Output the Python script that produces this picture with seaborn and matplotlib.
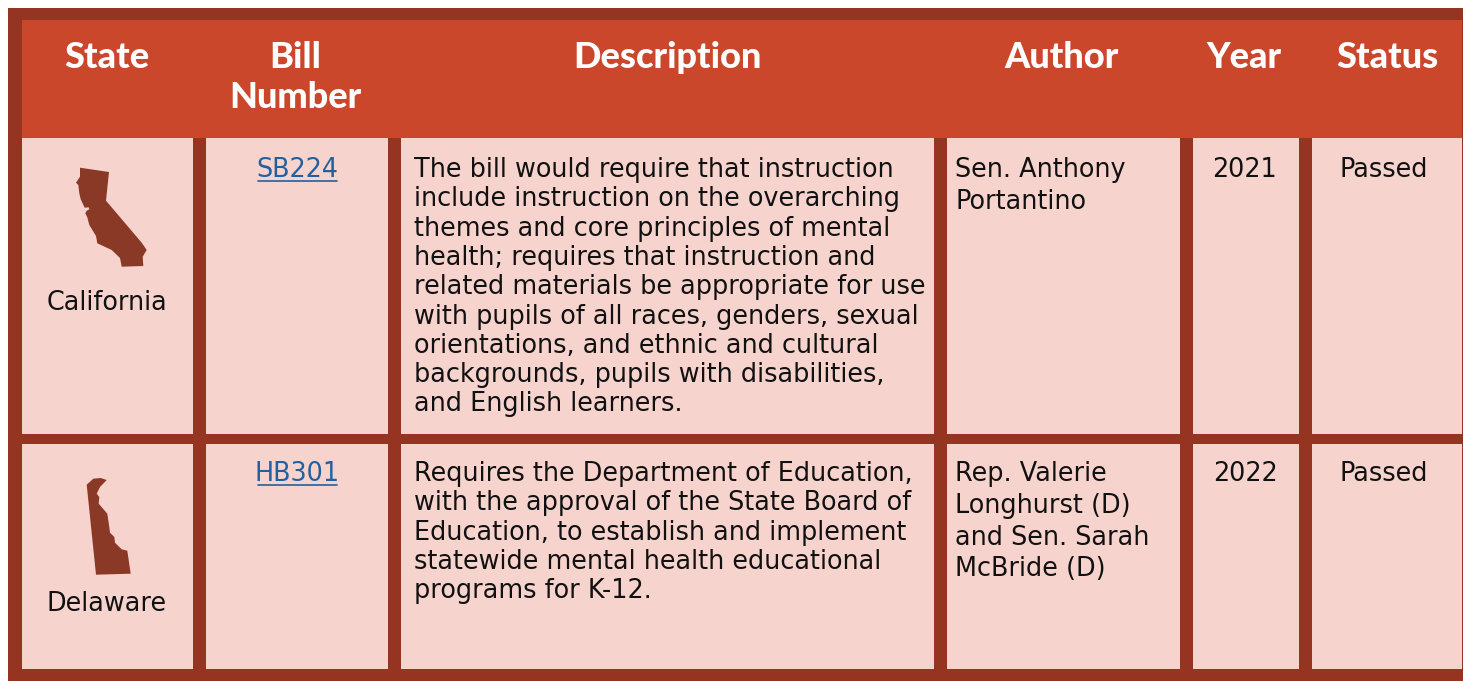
import matplotlib
matplotlib.use("Agg")
import matplotlib.pyplot as plt
import seaborn as sns

W, H = 1463, 681

headers = [["State"], ["Bill", "Number"], ["Description"], ["Author"], ["Year"], ["Status"]]
states = ["California", "Delaware"]
bills = ["SB224", "HB301"]
descriptions = [
    ["The bill would require that instruction",
     "include instruction on the overarching",
     "themes and core principles of mental",
     "health; requires that instruction and",
     "related materials be appropriate for use",
     "with pupils of all races, genders, sexual",
     "orientations, and ethnic and cultural",
     "backgrounds, pupils with disabilities,",
     "and English learners."],
    ["Requires the Department of Education,",
     "with the approval of the State Board of",
     "Education, to establish and implement",
     "statewide mental health educational",
     "programs for K-12."],
]
authors = [
    ["Sen. Anthony", "Portantino"],
    ["Rep. Valerie", "Longhurst (D)", "and Sen. Sarah", "McBride (D)"],
]
years = ["2021", "2022"]
statuses = ["Passed", "Passed"]

# state outlines, pixels
california = [(80, 167.7), (109, 172), (106, 200.7), (141.7, 242.7), (146.7, 250),
              (142.7, 256.7), (143.3, 266), (121.7, 266.7), (120, 258), (111.7, 250),
              (97.3, 243.3), (96, 236), (89.3, 225), (87.3, 217.3), (85.3, 213.3),
              (86.7, 210.7), (89.3, 209.3), (88.7, 207.3), (84.7, 207.7), (80.7, 199.3),
              (79.3, 193.3), (78.3, 185), (76, 182.7), (80, 176.7)]
delaware = [(86.7, 484.7), (93.3, 478.7), (100.7, 478), (106.7, 480), (100, 487),
            (96.7, 493.7), (99.3, 497), (98.7, 503.7), (107.3, 513.7), (109.3, 527),
            (110, 532.7), (114.3, 537), (115, 542.7), (121.7, 549.3), (127.3, 550.7),
            (130.7, 573.7), (96, 574.7)]

# layout, pixels
col_edges = [(22, 193), (206, 388), (401, 934), (947, 1180), (1193, 1299), (1312, 1462)]
row_edges = [(138, 434), (444, 669)]
row_base = [177, 481]
state_base = [310, 611]

FRAME = "#943421"
HEAD = "#cb472b"
CELL = "#f6d3cd"
SHAPE = "#8a3926"
LINK = "#22609f"
INK = "#111111"
BODY = 18.4


def rect(ax, x0, y0, x1, y1, color):
    ax.fill([x0, x1, x1, x0], [y0, y0, y1, y1], color=color, lw=0)


def put(ax, x, y, s, ha="center", **kw):
    kw.setdefault("fontsize", BODY)
    kw.setdefault("color", INK)
    return ax.text(x, y, s, ha=ha, va="baseline", **kw)


def main():
    sns.set_theme(style="white")
    plt.rcParams["font.family"] = ["DejaVu Sans"]

    fig = plt.figure(figsize=(W / 100, H / 100), dpi=100, facecolor="white")
    ax = fig.add_axes([0, 0, 1, 1])
    ax.set_xlim(0, W)
    ax.set_ylim(H, 0)
    ax.axis("off")

    rect(ax, 8, 8, W, H, FRAME)
    rect(ax, 22, 20, 1462, 138, HEAD)
    for y0, y1 in row_edges:
        for x0, x1 in col_edges:
            rect(ax, x0, y0, x1, y1, CELL)

    head_x = [107, 295, 667, 1062, 1244, 1387]
    for x, lines in zip(head_x, headers):
        for i, line in enumerate(lines):
            put(ax, x, 68.5 + i * 40, line, color="white", fontsize=26, fontweight=900,
                family=["Lato", "DejaVu Sans"])

    for shape in (california, delaware):
        ax.fill(*zip(*shape), color=SHAPE, lw=0)

    for r in range(2):
        base = row_base[r]
        put(ax, 107, state_base[r], states[r])
        put(ax, 297.5, base, bills[r], color=LINK)
        ax.plot([258, 337], [base + 4] * 2, color=LINK, lw=1.2)
        for i, line in enumerate(descriptions[r]):
            put(ax, 414, base + i * 29.3, line, ha="left")
        for i, line in enumerate(authors[r]):
            put(ax, 955, base + i * 31.8, line, ha="left")
        put(ax, 1245, base, years[r])
        put(ax, 1384, base, statuses[r])

    fig.savefig("out.png", dpi=100)
    plt.close(fig)


if __name__ == "__main__":
    main()
